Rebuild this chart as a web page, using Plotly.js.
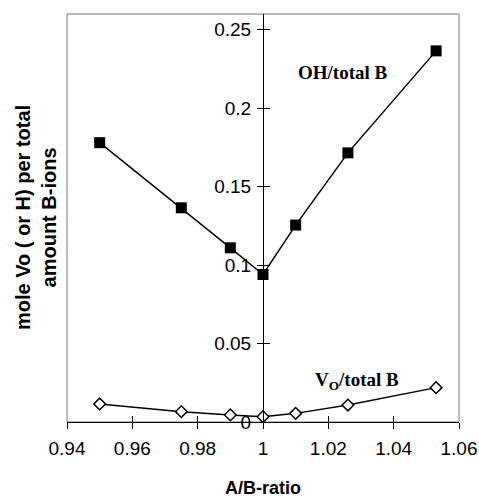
<!DOCTYPE html>
<html>
<head>
<meta charset="utf-8">
<script src="https://cdn.plot.ly/plotly-3.0.1.min.js"></script>
<style>html,body{margin:0;padding:0;background:#fff;}#chart{width:479px;height:498px;}</style>
</head>
<body>
<div id="chart"></div>
<script>
// A/B ratio values
const abRatio = [0.95, 0.975, 0.99, 1.0, 1.01, 1.026, 1.053];
// OH per total B
const ohTotalB = [0.178, 0.1365, 0.111, 0.094, 0.1255, 0.1715, 0.2365];
// Vo per total B
const voTotalB = [0.0115, 0.0066, 0.0045, 0.0034, 0.0055, 0.0108, 0.0219];
const xTicks = [0.94, 0.96, 0.98, 1, 1.02, 1.04, 1.06];
const yTicks = [0, 0.05, 0.1, 0.15, 0.2, 0.25];

const traces = [
  {x: abRatio, y: ohTotalB, type: 'scatter', mode: 'none', xaxis: 'x2', yaxis: 'y2',
   hoverinfo: 'skip', showlegend: false},
  {x: abRatio, y: ohTotalB, type: 'scatter', mode: 'lines+markers', name: 'OH/total B',
   line: {color: '#000', width: 1.5},
   marker: {symbol: 'square', size: 11, color: '#000'}, cliponaxis: false},
  {x: abRatio, y: voTotalB, type: 'scatter', mode: 'lines+markers', name: 'Vo/total B',
   line: {color: '#000', width: 1.5},
   marker: {symbol: 'diamond', size: 9, color: '#fff', line: {color: '#000', width: 1.5}}, cliponaxis: false}
];

const tickFont = {family: 'Liberation Sans, Arial, sans-serif', size: 19, color: '#000'};

const layout = {
  width: 479, height: 498,
  margin: {l: 67, r: 20, t: 14, b: 76},
  paper_bgcolor: '#fff', plot_bgcolor: '#fff',
  showlegend: false,
  xaxis: {
    range: [0.94, 1.06], tickvals: xTicks, ticks: 'outside', ticklen: 6, tickcolor: '#000',
    showline: true, linecolor: '#000', linewidth: 1, showgrid: false, zeroline: false,
    tickfont: tickFont, ticklabelstandoff: 3,
    title: {text: 'A/B-ratio', font: {family: 'Liberation Sans, Arial, sans-serif', size: 18, color: '#000', weight: 'bold'}, standoff: 23}
  },
  xaxis2: {
    overlaying: 'x', range: [0.94, 1.06], tickvals: xTicks, ticks: 'inside', ticklen: 6, tickcolor: '#000',
    showticklabels: false, showline: false, showgrid: false, zeroline: false, anchor: 'y2', side: 'bottom'
  },
  yaxis: {
    range: [0, 0.26], tickvals: yTicks, ticks: 'outside', ticklen: 6, tickcolor: '#000',
    anchor: 'free', position: 0.5,
    showline: true, linecolor: '#000', linewidth: 1, showgrid: false, zeroline: false,
    tickfont: tickFont, ticklabelstandoff: 2
  },
  yaxis2: {
    overlaying: 'y', range: [0, 0.26], tickvals: yTicks, ticks: 'inside', ticklen: 6, tickcolor: '#000',
    anchor: 'free', position: 0.5, side: 'left',
    showticklabels: false, showline: false, showgrid: false, zeroline: false
  },
  shapes: [
    {type: 'rect', xref: 'paper', yref: 'paper', x0: 0, x1: 1, y0: 0, y1: 1,
     line: {color: '#777', width: 1}, layer: 'below'}
  ],
  annotations: [
    {xref: 'x', yref: 'y', x: 1.0245, y: 0.2226, text: '<b>OH/total B</b>', showarrow: false,
     font: {family: 'Liberation Serif, Times New Roman, serif', size: 19, color: '#000'}},
    {xref: 'x', yref: 'y', x: 1.0288, y: 0.0261, text: '<b>V<sub>O</sub>/total B</b>', showarrow: false,
     font: {family: 'Liberation Serif, Times New Roman, serif', size: 19, color: '#000'}},
    {xref: 'paper', yref: 'paper', x: -0.079, y: 0.5, xanchor: 'center', yanchor: 'middle',
     textangle: -90, showarrow: false,
     text: '<b>mole Vo ( or H) per total<br>amount B-ions</b>',
     font: {family: 'Liberation Sans, Arial, sans-serif', size: 20, color: '#000'}}
  ]
};

Plotly.newPlot('chart', traces, layout, {displayModeBar: false, staticPlot: true});
</script>
</body>
</html>
